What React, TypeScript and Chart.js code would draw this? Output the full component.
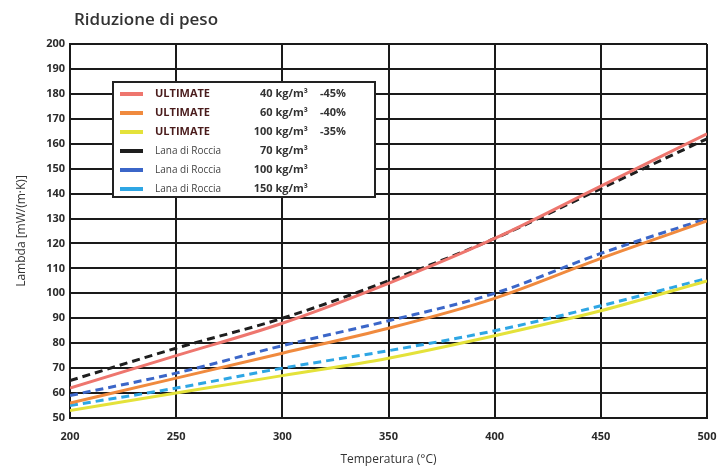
import React, { useEffect, useRef } from 'react';
import { Chart, registerables } from 'chart.js';
Chart.register(...registerables);

const temperatures = [200, 250, 300, 350, 400, 450, 500];
const ultimate40 = [62, 75, 88, 104, 122, 143, 164];
const ultimate60 = [56, 66, 76, 86, 98, 114, 129];
const ultimate100 = [53, 60, 67, 74, 83, 93, 105];
const lana70 = [65, 78, 90, 105, 122, 142, 162];
const lana100 = [59, 68, 79, 89, 100, 116, 130];
const lana150 = [55, 62, 70, 77, 85, 95, 106];

const seriesNames = ['ULTIMATE', 'ULTIMATE', 'ULTIMATE', 'Lana di Roccia', 'Lana di Roccia', 'Lana di Roccia'];
const seriesDensity = ['40 kg/m³', '60 kg/m³', '100 kg/m³', '70 kg/m³', '100 kg/m³', '150 kg/m³'];
const seriesReduction = ['-45%', '-40%', '-35%', '', '', ''];
const seriesColors = ['#ee766e', '#f08a3e', '#e4e23a', '#1e1e1e', '#3b66c8', '#2ea6e4'];
const seriesDashed = [false, false, false, true, true, true];
const seriesData = [ultimate40, ultimate60, ultimate100, lana70, lana100, lana150];

const titleText = 'Riduzione di peso';
const yTitle = 'Lambda [mW/(m·K)]';
const xTitle = 'Temperatura (°C)';

const FONT = '"Open Sans", "Noto Sans", sans-serif';

const overlayPlugin = {
  id: 'overlay',
  afterDraw(chart: any) {
    const ctx = chart.ctx;
    ctx.save();
    // title
    ctx.fillStyle = '#333';
    ctx.font = `600 17px ${FONT}`;
    ctx.textAlign = 'left';
    ctx.textBaseline = 'middle';
    ctx.fillText(titleText, 74, 20);

    // legend box
    const bx = 113, by = 82, bw = 262, bh = 115;
    ctx.fillStyle = '#ffffff';
    ctx.fillRect(bx, by, bw, bh);
    ctx.strokeStyle = '#222';
    ctx.lineWidth = 2;
    ctx.strokeRect(bx, by, bw, bh);
    for (let i = 0; i < seriesNames.length; i++) {
      const cy = by + 12 + i * 19;
      ctx.strokeStyle = seriesColors[i];
      ctx.lineWidth = 4;
      ctx.setLineDash([]);
      ctx.beginPath();
      ctx.moveTo(120, cy);
      ctx.lineTo(143, cy);
      ctx.stroke();
      const ult = i < 3;
      ctx.fillStyle = ult ? '#4a1c1c' : '#444';
      ctx.font = ult ? `700 11px ${FONT}` : `400 10px ${FONT}`;
      ctx.textAlign = 'left';
      ctx.fillText(seriesNames[i], 155, cy);
      ctx.fillStyle = '#333';
      ctx.font = `700 11px ${FONT}`;
      ctx.textAlign = 'right';
      ctx.fillText(seriesDensity[i], 308, cy);
      ctx.textAlign = 'left';
      ctx.fillText(seriesReduction[i], 320, cy);
    }
    ctx.restore();
  },
};

export default function App() {
  const ref = useRef<HTMLCanvasElement>(null);
  useEffect(() => {
    if (!ref.current) return;
    const chart = new Chart(ref.current, {
      type: 'line',
      data: {
        datasets: seriesData.map((d, i) => ({
          label: `${seriesNames[i]} ${seriesDensity[i]}`,
          data: d.map((v, j) => ({ x: temperatures[j], y: v })),
          borderColor: seriesColors[i],
          backgroundColor: seriesColors[i],
          borderWidth: 3,
          borderDash: seriesDashed[i] ? [8, 5] : [],
          pointRadius: 0,
          cubicInterpolationMode: 'monotone' as const,
          fill: false,
        })),
      },
      options: {
        animation: false,
        responsive: false,
        maintainAspectRatio: false,
        layout: { padding: { top: 44, right: 11, left: 0, bottom: 0 } },
        plugins: {
          legend: { display: false },
          tooltip: { enabled: false },
          title: { display: false },
        },
        scales: {
          x: {
            type: 'linear',
            min: 200,
            max: 500,
            ticks: {
              stepSize: 50,
              color: '#2a2a2a',
              font: { family: FONT, size: 11, weight: 'bold' },
              padding: 12,
            },
            grid: { color: '#1a1a1a', lineWidth: 2, drawTicks: false },
            border: { color: '#1a1a1a', width: 2 },
            title: {
              display: true,
              text: xTitle,
              color: '#333',
              font: { family: FONT, size: 12 },
              padding: { top: 3, bottom: 0 },
            },
            afterFit(scale: any) {
              scale.height = 49;
              scale.paddingLeft = 0;
              scale.paddingRight = 0;
            },
          },
          y: {
            min: 50,
            max: 200,
            ticks: {
              stepSize: 10,
              color: '#2a2a2a',
              font: { family: FONT, size: 11, weight: 'bold' },
              padding: 5,
            },
            grid: { color: '#1a1a1a', lineWidth: 2, drawTicks: false },
            border: { color: '#1a1a1a', width: 2 },
            title: {
              display: true,
              text: yTitle,
              color: '#333',
              font: { family: FONT, size: 12 },
              padding: { top: 14, bottom: 8 },
            },
            afterFit(scale: any) {
              scale.width = 70;
              scale.paddingTop = 0;
              scale.paddingBottom = 0;
            },
          },
        },
      },
      plugins: [overlayPlugin],
    });
    return () => chart.destroy();
  }, []);
  return (
    <div style={{ position: 'absolute', left: 0, top: 0, width: 718, height: 467, background: '#fff' }}>
      <canvas ref={ref} width={718} height={467} style={{ width: 718, height: 467 }} />
    </div>
  );
}
